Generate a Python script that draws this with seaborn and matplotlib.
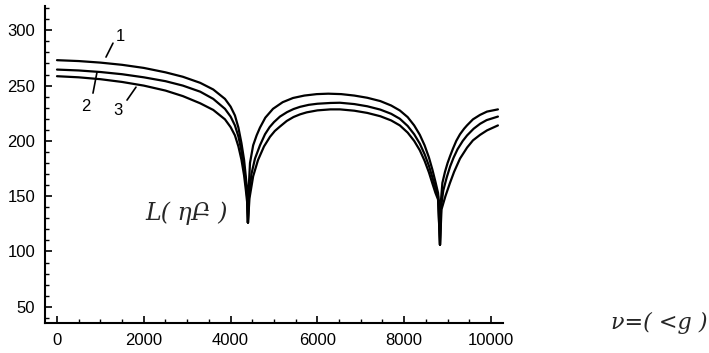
import matplotlib
matplotlib.use("Agg")
import numpy as np
import pandas as pd
import seaborn as sns
import matplotlib.pyplot as plt
from matplotlib.ticker import MultipleLocator

# ---- data ----
x1 = [0, 500, 1000, 1500, 2000, 2500, 2900, 3300, 3600, 3870, 4000, 4100, 4180, 4250, 4310,
      4350, 4380, 4400,
      4415, 4447, 4520, 4600, 4677, 4800, 4977, 5200, 5438, 5700, 5984, 6250, 6550, 6850,
      7150, 7450, 7700, 7900, 8080, 8230, 8360, 8470, 8570, 8650, 8720, 8780, 8810, 8825,
      8845, 8880, 8940, 9000, 9055, 9124, 9200, 9286, 9380, 9447, 9585, 9747, 9908, 10160]
y1 = [273, 272.2, 270.8, 268.8, 266, 262, 258, 252.5, 246.5, 238, 231, 223, 212, 198, 183,
      168, 155, 126,
      155, 180, 196, 205, 212, 221, 229, 235, 238.8, 241, 242.3, 242.7, 242.3, 241,
      239, 236, 232, 227.5, 221.5, 214, 205.5, 196, 185, 174, 163, 153, 140, 106,
      145, 162, 172, 180, 186, 193, 200, 206, 211, 214, 219.5, 223.5, 226.5, 228.5]

x2 = [0, 500, 1000, 1500, 2000, 2500, 2900, 3300, 3600, 3870, 4000, 4100, 4180, 4250, 4310,
      4350, 4380, 4400,
      4425, 4480, 4562, 4677, 4793, 4900, 5000, 5138, 5300, 5450, 5600, 5800, 6000, 6300,
      6520, 6850, 7150, 7450, 7700, 7900, 8080, 8230, 8360, 8470, 8570, 8650, 8720, 8780,
      8825,
      8850, 8900, 8980, 9060, 9140, 9230, 9350, 9450, 9600, 9750, 9900, 10160]
y2 = [264.5, 263.7, 262.3, 260.3, 257.5, 254, 250, 244.5, 238, 229, 222, 214, 204, 191, 176,
      162, 150, 126,
      150, 170, 184, 196, 206, 212.5, 217, 222, 226, 228.8, 230.8, 232.6, 233.6, 234.3,
      234.5, 233.3, 231.3, 228.3, 224.5, 220, 213.5, 206, 197.5, 188, 177.5, 167, 157.5, 150,
      106,
      140, 155, 167, 177, 185, 192.5, 200, 205, 211, 215.5, 218.8, 222]

x3 = [0, 500, 1000, 1500, 2000, 2500, 2900, 3300, 3600, 3870, 4000, 4100, 4180, 4250, 4310,
      4350, 4380, 4400,
      4435, 4520, 4631, 4770, 4908, 5020, 5138, 5293, 5450, 5600, 5753, 6000, 6300, 6520,
      6850, 7150, 7450, 7700, 7900, 8080, 8230, 8360, 8470, 8570, 8650, 8720, 8780, 8825,
      8860, 8950, 9055, 9150, 9286, 9450, 9585, 9750, 9908, 10160]
y3 = [258.5, 257.5, 255.8, 253.3, 250, 245.5, 240.5, 234, 228, 219.5, 212.5, 205, 195, 183, 169,
      156, 145, 126,
      148, 168, 182.6, 195, 203.7, 209, 213, 218, 221.6, 224, 225.8, 227.6, 228.5, 228.5,
      227.3, 225.3, 222.3, 218.5, 214, 207.5, 200, 191.5, 182, 171.5, 161.5, 153, 147, 106,
      138, 150, 162, 172, 184, 194, 200.5, 205.5, 209.5, 214]

curve_names = ["1", "2", "3"]
x_ticks = [0, 2000, 4000, 6000, 8000, 10000]
y_ticks = [50, 100, 150, 200, 250, 300]

# ---- build long table ----
frames = []
for name, xs, ys in zip(curve_names, [x1, x2, x3], [y1, y2, y3]):
    frames.append(pd.DataFrame({"f": xs, "L": ys, "curve": name}))
df = pd.concat(frames, ignore_index=True)

sns.set_style("ticks")
plt.rcParams['font.family'] = ['Liberation Sans', 'DejaVu Sans']

fig = plt.figure(figsize=(7.09, 3.53), dpi=100)
ax = fig.add_axes([0.0635, 0.085, 0.6459, 0.898])

sns.lineplot(data=df, x="f", y="L", hue="curve", palette=["black"] * 3,
             linewidth=1.6, ax=ax, legend=False, sort=False, estimator=None)

ax.set_xlim(-276, 10276)
ax.set_ylim(35.3, 322)
ax.set_xticks(x_ticks)
ax.set_yticks(y_ticks)
ax.xaxis.set_minor_locator(MultipleLocator(500))
ax.yaxis.set_minor_locator(MultipleLocator(10))
ax.set_xlabel("")
ax.set_ylabel("")

sns.despine(ax=ax)
for s in ["left", "bottom"]:
    ax.spines[s].set_linewidth(1.5)
    ax.spines[s].set_color("black")

ax.tick_params(which="major", direction="in", length=5, width=1.2, labelsize=12,
               colors="black", pad=7)
ax.tick_params(which="minor", direction="in", length=3, width=1.0, colors="black")

# curve labels with leader lines
lab_font = dict(fontsize=12, color="black", ha="center", va="center")
ax.plot([1129, 1290], [275.8, 288.4], color="black", lw=1.2)
ax.text(1452, 294, "1", **lab_font)
ax.plot([829, 922], [243.2, 262.2], color="black", lw=1.2)
ax.text(668, 231.5, "2", **lab_font)
ax.plot([1613, 1820], [236.9, 248.6], color="black", lw=1.2)
ax.text(1406, 227.8, "3", **lab_font)

ax.text(2995, 134.7, "L( ηԲ )", ha="center", va="center", fontsize=17, style="italic",
        family=["DejaVu Serif", "DejaVu Sans"])
fig.text(0.93, 0.085, "ν=( <g )", ha="center", va="center", fontsize=16, style="italic",
         family=["DejaVu Serif", "DejaVu Sans"])

fig.savefig("out.png", dpi=100)
